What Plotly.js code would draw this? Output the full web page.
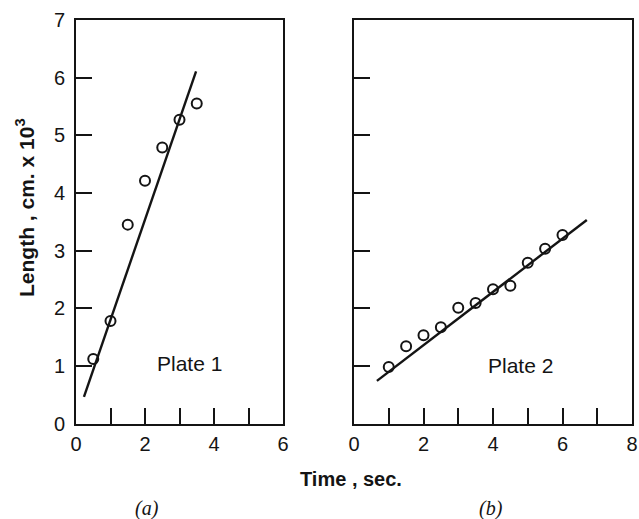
<!DOCTYPE html>
<html>
<head>
<meta charset="utf-8">
<script src="https://cdn.plot.ly/plotly-3.0.1.min.js"></script>
<style>html,body{margin:0;padding:0;background:#fff;}#chart{width:639px;height:519px;}</style>
</head>
<body>
<div id="chart"></div>
<script>
// Plate 1 (a)
const plate1Time = [0.5, 1.0, 1.5, 2.0, 2.5, 3.0, 3.5];
const plate1Length = [1.12, 1.78, 3.45, 4.21, 4.79, 5.27, 5.55];
const plate1FitTime = [0.23, 3.48];
const plate1FitLength = [0.46, 6.11];

// Plate 2 (b)
const plate2Time = [1.0, 1.5, 2.0, 2.5, 3.0, 3.5, 4.0, 4.5, 5.0, 5.5, 6.0];
const plate2Length = [0.98, 1.34, 1.53, 1.67, 2.01, 2.09, 2.33, 2.39, 2.79, 3.03, 3.27];
const plate2FitTime = [0.66, 6.7];
const plate2FitLength = [0.74, 3.53];

// Tick labels
const xTicksA = [0, 2, 4, 6];
const xTickTextA = ['0', '2', '4', '6'];
const xTicksB = [0, 2, 4, 6, 8];
const xTickTextB = ['0', '2', '4', '6', '8'];
const yTicks = [0, 1, 2, 3, 4, 5, 6, 7];
const yTickText = ['0', '1', '2', '3', '4', '5', '6', '7'];

const ink = '#141414';
const sans = 'Liberation Sans, Arial, sans-serif';
const tickFont = {family: sans, size: 20, color: ink};

const W = 639, H = 519;
const px = v => v / W;
const py = v => 1 - v / H;

const marker = {symbol: 'circle-open', size: 10, color: ink, line: {width: 2, color: ink}};
const traces = [
  {x: plate1FitTime, y: plate1FitLength, mode: 'lines', line: {color: ink, width: 2.4}, xaxis: 'x', yaxis: 'y', hoverinfo: 'skip'},
  {x: plate1Time, y: plate1Length, mode: 'markers', marker: marker, xaxis: 'x', yaxis: 'y', cliponaxis: false},
  {x: plate2FitTime, y: plate2FitLength, mode: 'lines', line: {color: ink, width: 2.4}, xaxis: 'x2', yaxis: 'y2', hoverinfo: 'skip'},
  {x: plate2Time, y: plate2Length, mode: 'markers', marker: marker, xaxis: 'x2', yaxis: 'y2', cliponaxis: false}
];

const axisCommon = {
  showgrid: false, zeroline: false, showline: true, mirror: true,
  linecolor: ink, linewidth: 2, ticks: 'inside', ticklen: 16, tickwidth: 2,
  tickcolor: ink, tickfont: tickFont, fixedrange: true
};
const minorX = {dtick: 1, ticks: 'inside', ticklen: 16, tickwidth: 2, tickcolor: ink, showgrid: false};

const layout = {
  width: W, height: H,
  margin: {l: 0, r: 0, t: 0, b: 0},
  paper_bgcolor: '#fff', plot_bgcolor: '#fff',
  showlegend: false,
  xaxis: Object.assign({}, axisCommon, {domain: [px(76), px(283)], range: [0, 6], tickmode: 'array', tickvals: xTicksA, ticktext: xTickTextA, minor: minorX, anchor: 'y', ticklabelstandoff: 1}),
  yaxis: Object.assign({}, axisCommon, {domain: [py(423.5), py(20)], range: [0, 7], tickmode: 'array', tickvals: yTicks, ticktext: yTickText, anchor: 'x', ticklabelstandoff: 5}),
  xaxis2: Object.assign({}, axisCommon, {domain: [px(354), px(632)], range: [0, 8], tickmode: 'array', tickvals: xTicksB, ticktext: xTickTextB, minor: minorX, anchor: 'y2', ticklabelstandoff: 1}),
  yaxis2: Object.assign({}, axisCommon, {domain: [py(423.5), py(20)], range: [0, 7], tickmode: 'array', tickvals: yTicks, showticklabels: false, anchor: 'x2'}),
  annotations: [
    {text: 'Plate 1', x: 3.28, y: 1.04, xref: 'x', yref: 'y', showarrow: false, font: {family: sans, size: 21, color: ink}},
    {text: 'Plate 2', x: 4.78, y: 1.0, xref: 'x2', yref: 'y2', showarrow: false, font: {family: sans, size: 21, color: ink}},
    {text: '<b>Time , sec.</b>', x: px(351), y: py(479), xref: 'paper', yref: 'paper', xanchor: 'center', yanchor: 'middle', showarrow: false, font: {family: sans, size: 20, color: ink}},
    {text: '<b>Length , cm. x 10<sup>3</sup></b>', x: px(25), y: py(208), xref: 'paper', yref: 'paper', xanchor: 'center', yanchor: 'middle', showarrow: false, textangle: -90, font: {family: sans, size: 21, color: ink}},
    {text: '<i>(a)</i>', x: px(147), y: py(508), xref: 'paper', yref: 'paper', xanchor: 'center', yanchor: 'middle', showarrow: false, font: {family: 'Liberation Serif, Times New Roman, serif', size: 20, color: ink}},
    {text: '<i>(b)</i>', x: px(491), y: py(508), xref: 'paper', yref: 'paper', xanchor: 'center', yanchor: 'middle', showarrow: false, font: {family: 'Liberation Serif, Times New Roman, serif', size: 20, color: ink}}
  ]
};

Plotly.newPlot('chart', traces, layout, {displayModeBar: false, staticPlot: true});
</script>
</body>
</html>
